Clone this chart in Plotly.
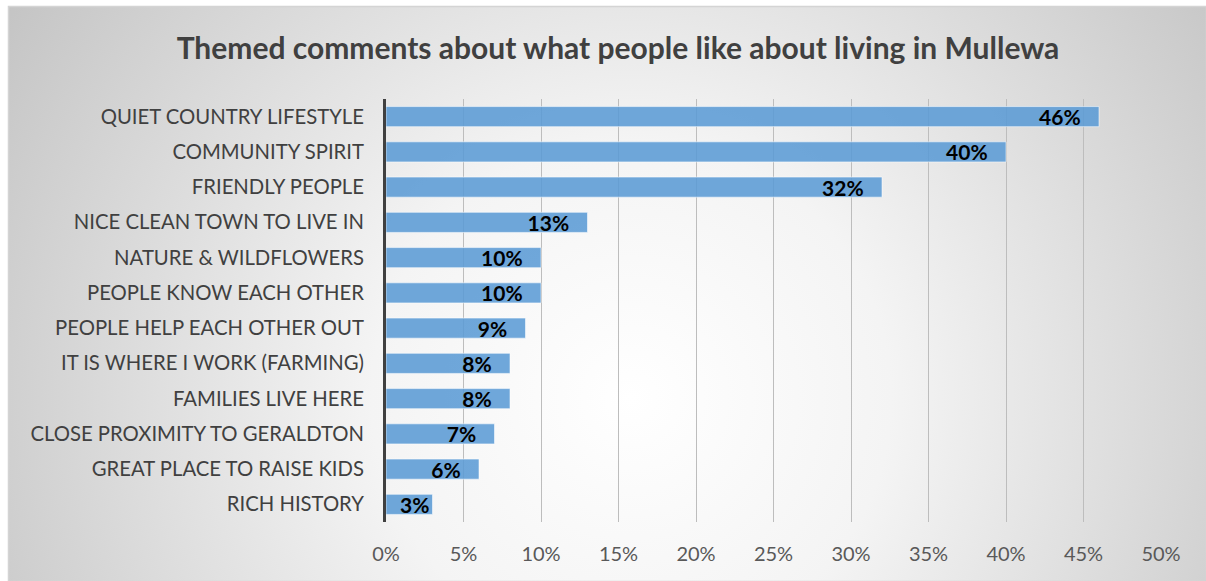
import base64
import plotly.graph_objects as go

# Themes, top to bottom, and share of comments mentioning each
themes = [
    "QUIET COUNTRY LIFESTYLE",
    "COMMUNITY SPIRIT",
    "FRIENDLY PEOPLE",
    "NICE CLEAN TOWN TO LIVE IN",
    "NATURE & WILDFLOWERS",
    "PEOPLE KNOW EACH OTHER",
    "PEOPLE HELP EACH OTHER OUT",
    "IT IS WHERE I WORK (FARMING)",
    "FAMILIES LIVE HERE",
    "CLOSE PROXIMITY TO GERALDTON",
    "GREAT PLACE TO RAISE KIDS",
    "RICH HISTORY",
]
shares = [0.46, 0.40, 0.32, 0.13, 0.10, 0.10, 0.09, 0.08, 0.08, 0.07, 0.06, 0.03]
x_ticks = [0, 0.05, 0.10, 0.15, 0.20, 0.25, 0.30, 0.35, 0.40, 0.45, 0.50]

W, H = 1206, 581
ML, MR, MT, MB = 386, 45, 99, 59
PW, PH = W - ML - MR, H - MT - MB

# Chart-area backdrop: radial grey gradient inside a thin frame
svg = f"""<svg xmlns='http://www.w3.org/2000/svg' width='{W}' height='{H}' viewBox='0 0 {W} {H}'>
<defs>
<radialGradient id='g' cx='0.52' cy='0.68' r='0.62' fx='0.52' fy='0.68' gradientUnits='objectBoundingBox' gradientTransform='translate(0.52 0.68) scale(1 2.05) translate(-0.52 -0.68)'>
<stop offset='0' stop-color='#ffffff'/>
<stop offset='0.35' stop-color='#f4f4f4'/>
<stop offset='1' stop-color='#c4c4c4'/>
</radialGradient>
</defs>
<rect x='0' y='0' width='{W}' height='{H}' fill='#ffffff'/>
<rect x='8.5' y='6.5' width='{W - 8}' height='{H - 6}' fill='url(#g)' stroke='#d4d4d4' stroke-width='1.5'/>
</svg>"""
bg_src = "data:image/svg+xml;base64," + base64.b64encode(svg.encode()).decode()


def label(v):
    # keep a little room after the number, except on very short bars
    pad = "\u00a0\u00a0\u00a0" if v >= 0.05 else ""
    return f"{v:.0%}{pad}"


fig = go.Figure(
    go.Bar(
        x=shares,
        y=themes,
        orientation="h",
        marker=dict(color="rgba(91,155,213,0.88)",
                    line=dict(color="rgba(255,255,255,0.55)", width=1)),
        text=[label(v) for v in shares],
        textposition="inside",
        insidetextanchor="end",
        textangle=0,
        constraintext="none",
        textfont=dict(family="Lato", size=21, color="#000000", weight="bold"),
        hoverinfo="skip",
    )
)

fig.update_layout(
    width=W,
    height=H,
    margin=dict(l=ML, r=MR, t=MT, b=MB, pad=0),
    paper_bgcolor="white",
    plot_bgcolor="rgba(0,0,0,0)",
    bargap=0.43,
    showlegend=False,
    title=dict(
        text="<b>Themed comments about what people like about living in Mullewa</b>",
        font=dict(family="Lato", size=30, color="#404040"),
        x=618 / W, xref="container", xanchor="center",
        y=1 - 48 / H, yref="container", yanchor="middle",
    ),
    font=dict(family="Lato", color="#404040"),
    images=[dict(
        source=bg_src, xref="paper", yref="paper",
        x=-ML / PW, y=1 + MT / PH, sizex=W / PW, sizey=H / PH,
        xanchor="left", yanchor="top", sizing="stretch", layer="below",
    )],
)

fig.update_xaxes(
    range=[0, 0.5],
    tickvals=x_ticks,
    tickformat=".0%",
    showgrid=True,
    gridcolor="#bdbdbd",
    gridwidth=1,
    zeroline=False,
    showline=False,
    ticks="",
    ticklabelstandoff=18,
    tickfont=dict(family="Lato", size=20, color="#595959"),
    fixedrange=True,
)
fig.update_yaxes(
    autorange="reversed",
    showline=True,
    linecolor="#404040",
    linewidth=3,
    showgrid=False,
    ticks="",
    ticklabelstandoff=15,
    tickfont=dict(family="Lato", size=20.3, color="#404040"),
    fixedrange=True,
)

fig.write_html("out.html", config={"displayModeBar": False})
